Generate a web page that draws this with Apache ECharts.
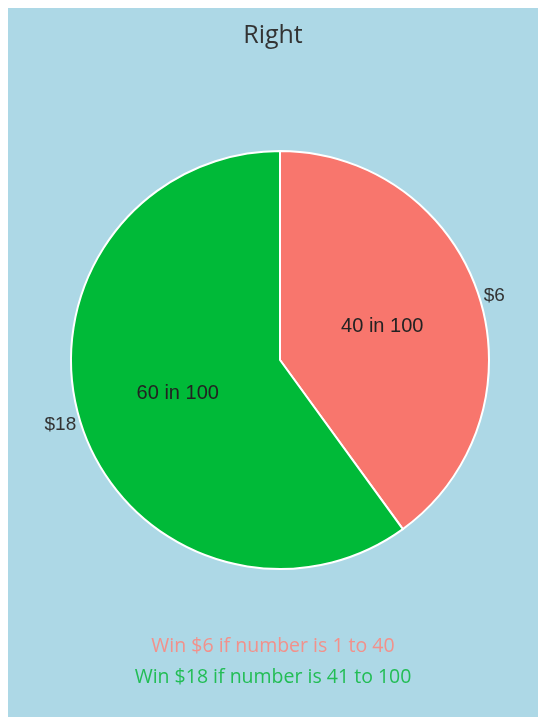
<!DOCTYPE html>
<html>
<head>
<meta charset="utf-8">
<script src="https://cdn.jsdelivr.net/npm/echarts@6/dist/echarts.min.js"></script>
<style>
  html, body { margin: 0; padding: 0; background: #ffffff; }
  #main { position: absolute; left: 8px; top: 8px; width: 530px; height: 709px; }
</style>
</head>
<body>
<div id="main"></div>
<script>
// data
const prizes = ['$6', '$18'];
const chances = [40, 60];
const chanceLabels = ['40 in 100', '60 in 100'];
const ranges = ['1 to 40', '41 to 100'];
const colors = ['#F8766D', '#00BA38'];
const noteColors = ['#F2918B', '#22BD55'];

const chart = echarts.init(document.getElementById('main'));

const pieData = prizes.map((p, i) => ({
  name: p,
  value: chances[i],
  itemStyle: { color: colors[i] }
}));

// one title per caption line, so each is centered
const notes = prizes.map((p, i) => ({
  text: 'Win ' + p + ' if number is ' + ranges[i],
  left: 'center',
  top: 623 + i * 31,
  textStyle: { fontFamily: 'Open Sans', fontSize: 19.5, fontWeight: 'normal', color: noteColors[i] }
}));

const option = {
  backgroundColor: '#ADD8E6',
  animation: false,
  title: [
    {
      text: 'Right',
      left: 'center',
      top: 10,
      textStyle: { fontFamily: 'Open Sans', fontSize: 25, fontWeight: 'normal', color: '#333' }
    }
  ].concat(notes),
  series: [
    {
      type: 'pie',
      center: [272, 352],
      radius: [0, 209],
      startAngle: 90,
      clockwise: true,
      itemStyle: { borderColor: '#ffffff', borderWidth: 2 },
      label: {
        position: 'inside',
        formatter: p => chanceLabels[p.dataIndex],
        fontFamily: 'Liberation Sans',
        fontSize: 20,
        color: '#222'
      },
      labelLine: { show: false },
      data: pieData
    },
    {
      type: 'pie',
      center: [272, 352],
      radius: [0, 209],
      startAngle: 90,
      clockwise: true,
      silent: true,
      itemStyle: { color: 'transparent', borderWidth: 0 },
      label: {
        position: 'outside',
        formatter: '{b}',
        fontFamily: 'Liberation Sans',
        fontSize: 19,
        color: '#333'
      },
      labelLine: { show: false, length: 0, length2: 0 },
      data: prizes.map((p, i) => ({ name: p, value: chances[i] }))
    }
  ]
};

chart.setOption(option);
</script>
</body>
</html>
